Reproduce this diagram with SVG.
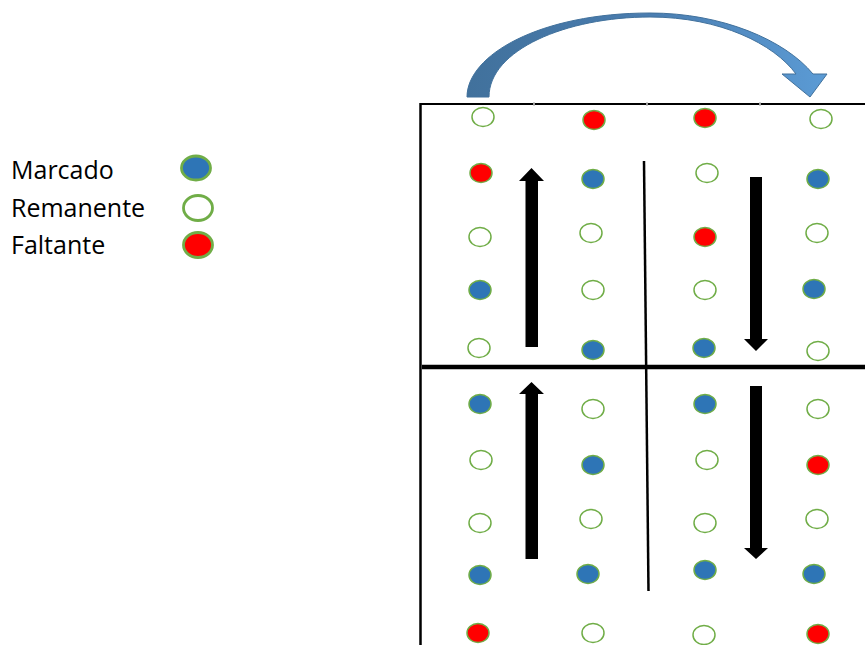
<svg xmlns="http://www.w3.org/2000/svg" width="865" height="645" viewBox="0 0 865 645">
<defs>
<linearGradient id="bg" x1="0" y1="0" x2="1" y2="0">
<stop offset="0" stop-color="#41719C"/>
<stop offset="0.5" stop-color="#4A7DB0"/>
<stop offset="1" stop-color="#5B9BD5"/>
</linearGradient>
</defs>
<style>
.lbl{font-family:"Open Sans","Liberation Sans",sans-serif;font-size:25px;fill:#000}
.d{stroke:#70AD47;stroke-width:1.5}
.lg{stroke:#70AD47;stroke-width:2.8}
.b{fill:#2E75B6}
.r{fill:#FF0000}
.o{fill:#FFFFFF}
.blk{fill:#000}
</style>
<rect width="865" height="645" fill="#fff"/>
<g id="legend">
<g id="leg-marcado"><text class="lbl" x="11" y="179">Marcado</text><ellipse class="lg b" cx="196" cy="168" rx="14.5" ry="12"/></g>
<g id="leg-remanente"><text class="lbl" x="11" y="217">Remanente</text><ellipse class="lg o" cx="198" cy="208" rx="14.5" ry="12.5"/></g>
<g id="leg-faltante"><text class="lbl" x="11" y="254">Faltante</text><ellipse class="lg r" cx="198" cy="245" rx="14.5" ry="12.5"/></g>
</g>
<g id="frame">
<line x1="420.5" y1="103" x2="420.5" y2="645" stroke="#000" stroke-width="2.5"/>
<line x1="420" y1="104" x2="865" y2="104" stroke="#000" stroke-width="2"/>
<rect x="533" y="102.5" width="2" height="3" fill="#999"/>
<rect x="646" y="102.5" width="2" height="3" fill="#999"/>
<rect x="759" y="102.5" width="2" height="3" fill="#999"/>
<line x1="422" y1="367" x2="865" y2="367" stroke="#000" stroke-width="4.5"/>
<line x1="644" y1="161" x2="648.5" y2="591" stroke="#000" stroke-width="2.5"/>
</g>
<g id="dots">
<g id="r1"><ellipse class="d o" cx="483" cy="117" rx="11" ry="9.5"/><ellipse class="d r" cx="594" cy="120" rx="11" ry="9.5"/><ellipse class="d r" cx="705" cy="118" rx="11" ry="9.5"/><ellipse class="d o" cx="821" cy="119" rx="11" ry="9.5"/></g>
<g id="r2"><ellipse class="d r" cx="481" cy="173" rx="11" ry="9.5"/><ellipse class="d b" cx="593" cy="179" rx="11" ry="9.5"/><ellipse class="d o" cx="707" cy="173" rx="11" ry="9.5"/><ellipse class="d b" cx="818" cy="179" rx="11" ry="9.5"/></g>
<g id="r3"><ellipse class="d o" cx="480" cy="237" rx="11" ry="9.5"/><ellipse class="d o" cx="591" cy="233" rx="11" ry="9.5"/><ellipse class="d r" cx="705" cy="237" rx="11" ry="9.5"/><ellipse class="d o" cx="817" cy="233" rx="11" ry="9.5"/></g>
<g id="r4"><ellipse class="d b" cx="480" cy="290" rx="11" ry="9.5"/><ellipse class="d o" cx="593" cy="290" rx="11" ry="9.5"/><ellipse class="d o" cx="705" cy="290" rx="11" ry="9.5"/><ellipse class="d b" cx="814" cy="289" rx="11" ry="9.5"/></g>
<g id="r5"><ellipse class="d o" cx="479" cy="348" rx="11" ry="9.5"/><ellipse class="d b" cx="593" cy="350" rx="11" ry="9.5"/><ellipse class="d b" cx="704" cy="348" rx="11" ry="9.5"/><ellipse class="d o" cx="818" cy="351" rx="11" ry="9.5"/></g>
<g id="r6"><ellipse class="d b" cx="480" cy="404" rx="11" ry="9.5"/><ellipse class="d o" cx="593" cy="409" rx="11" ry="9.5"/><ellipse class="d b" cx="705" cy="404" rx="11" ry="9.5"/><ellipse class="d o" cx="818" cy="409" rx="11" ry="9.5"/></g>
<g id="r7"><ellipse class="d o" cx="481" cy="460" rx="11" ry="9.5"/><ellipse class="d b" cx="593" cy="465" rx="11" ry="9.5"/><ellipse class="d o" cx="707" cy="460" rx="11" ry="9.5"/><ellipse class="d r" cx="818" cy="465" rx="11" ry="9.5"/></g>
<g id="r8"><ellipse class="d o" cx="480" cy="523" rx="11" ry="9.5"/><ellipse class="d o" cx="591" cy="519" rx="11" ry="9.5"/><ellipse class="d o" cx="705" cy="523" rx="11" ry="9.5"/><ellipse class="d o" cx="817" cy="519" rx="11" ry="9.5"/></g>
<g id="r9"><ellipse class="d b" cx="480" cy="575" rx="11" ry="9.5"/><ellipse class="d b" cx="588" cy="574" rx="11" ry="9.5"/><ellipse class="d b" cx="705" cy="570" rx="11" ry="9.5"/><ellipse class="d b" cx="814" cy="574" rx="11" ry="9.5"/></g>
<g id="r10"><ellipse class="d r" cx="478" cy="633" rx="11" ry="9.5"/><ellipse class="d o" cx="593" cy="633" rx="11" ry="9.5"/><ellipse class="d o" cx="704" cy="635" rx="11" ry="9.5"/><ellipse class="d r" cx="818" cy="634" rx="11" ry="9.5"/></g>
</g>
<g id="connectors">
<polygon class="blk" points="525.5,347 538,347 538,181 544,181 531.5,168 519,181 525.5,181"/>
<polygon class="blk" points="750,177 762,177 762,339 768,339 756,351 744,339 750,339"/>
<polygon class="blk" points="525.5,559 538,559 538,394 544,394 531.5,382 519,394 525.5,394"/>
<polygon class="blk" points="750,386 762,386 762,548 768,548 756,559 744,548 750,548"/>
<path d="M467,97 C467,55 540,13 650,13 C722,13 785,40 813,74 L827,74 L810,97 L782,74 L796,74 C774,44 720,17 650,17 C566,17 489,50 489,97 Z" fill="url(#bg)" stroke="#41719C" stroke-width="1"/>
</g>
</svg>
